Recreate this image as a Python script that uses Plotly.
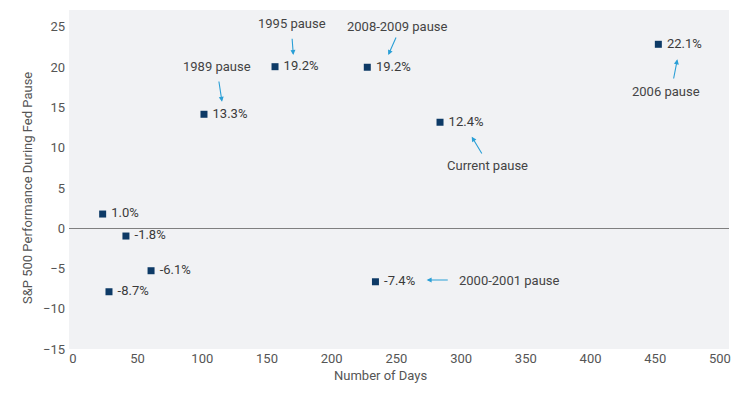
import plotly.graph_objects as go

# ---- data ----
days = [23.0, 41.0, 60.4, 27.9, 101.3, 156.2, 227.5, 233.8, 283.7, 452.4]
perf = [1.76, -0.97, -5.28, -7.89, 14.15, 20.06, 19.99, -6.65, 13.16, 22.84]
point_labels = ["1.0%", "-1.8%", "-6.1%", "-8.7%", "13.3%", "19.2%", "19.2%",
                "-7.4%", "12.4%", "22.1%"]

pause_names = ["1989 pause", "1995 pause", "2008-2009 pause", "2006 pause",
               "Current pause", "2000-2001 pause"]
pause_index = [4, 5, 6, 9, 8, 7]

x_ticks = [0, 50, 100, 150, 200, 250, 300, 350, 400, 450, 500]
y_ticks = [-15, -10, -5, 0, 5, 10, 15, 20, 25]

# ---- styling / annotation geometry (pixel offsets relative to each point) ----
FONT = "Roboto, Arial, sans-serif"
ARROW = "#2a9fd6"
# (tip dx, tip dy, tail ax, tail ay, text dx, text dy, xanchor) ; dy positive = down
geom = {
    "1989 pause":      (18, -12.6, -3.3, -21.7, 13.3, -47.6, "center"),
    "1995 pause":      (18.3, -11.7, -1.3, -17.7, 17.3, -43.4, "center"),
    "2008-2009 pause": (21.0, -12.3, 8.4, -19.0, 30.5, -40.6, "center"),
    "2006 pause":      (19.0, 15.0, -4.0, 20.7, 7.7, 47.4, "center"),
    "Current pause":   (31.7, 14.4, 11.0, 18.3, 47.3, 43.4, "center"),
    "2000-2001 pause": (51.2, -1.7, 22.6, 0.0, 81.2, -1.7, "left"),
}

# page body has an 8px margin -> figure is 8px smaller, margins reduced by 8
W, H = 748, 386
ML, MR, MT, MB = 61, 27, 2, 45
PW = W - ML - MR
PH = H - MT - MB

fig = go.Figure()
fig.add_trace(go.Scatter(
    x=days, y=perf, mode="markers+text",
    marker=dict(symbol="square", size=7, color="#0d3a66"),
    text=["\u00a0" + t for t in point_labels], textposition="middle right",
    textfont=dict(family=FONT, size=13, color="#3a3a3a"),
    hoverinfo="skip", showlegend=False, cliponaxis=False,
))

annotations = []
for name, idx in zip(pause_names, pause_index):
    tdx, tdy, ax, ay, xdx, xdy, xanc = geom[name]
    annotations.append(dict(
        x=days[idx], y=perf[idx], xref="x", yref="y",
        xshift=tdx, yshift=-tdy, text="", showarrow=True,
        axref="pixel", ayref="pixel", ax=ax, ay=ay,
        arrowhead=2, arrowsize=0.9, arrowwidth=1.1, arrowcolor=ARROW,
    ))
    annotations.append(dict(
        x=days[idx], y=perf[idx], xref="x", yref="y",
        xshift=xdx, yshift=-xdy, text=name, showarrow=False,
        xanchor=xanc, yanchor="middle",
        font=dict(family=FONT, size=13, color="#444444"),
    ))

# axis titles
annotations.append(dict(
    x=(380 - 69) / PW, y=0, xref="paper", yref="paper", yshift=-26,
    text="Number of Days", showarrow=False, xanchor="center", yanchor="middle",
    font=dict(family=FONT, size=13, color="#555555"),
))
annotations.append(dict(
    x=0, y=(349 - 188) / PH, xref="paper", yref="paper", xshift=-42,
    text="S&P 500 Performance During Fed Pause", showarrow=False, textangle=-90,
    xanchor="center", yanchor="middle",
    font=dict(family=FONT, size=13, color="#555555"),
))

fig.update_layout(
    width=W, height=H,
    margin=dict(l=ML, r=MR, t=MT, b=MB),
    paper_bgcolor="white", plot_bgcolor="#f1f2f4",
    font=dict(family=FONT, size=13, color="#555555"),
    annotations=annotations,
    xaxis=dict(range=[-3, 507], tickvals=x_ticks, showgrid=False, zeroline=False,
               showline=False, ticks="", tickfont=dict(size=13, color="#555555"),
               fixedrange=True),
    yaxis=dict(range=[-15, 27.1], tickvals=y_ticks, showgrid=False, zeroline=True,
               zerolinecolor="#7f7f7f", zerolinewidth=1, showline=False, ticks="",
               ticklabelstandoff=3, tickfont=dict(size=13, color="#555555"),
               fixedrange=True),
)

fig.write_html("out.html")
